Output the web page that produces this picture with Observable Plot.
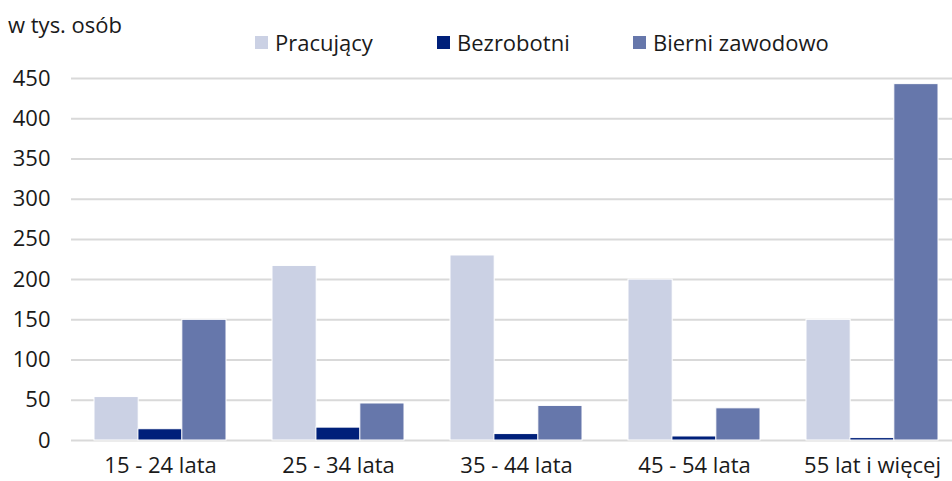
<!DOCTYPE html>
<html>
<head>
<meta charset="utf-8">
<script src="https://cdn.jsdelivr.net/npm/d3@7"></script>
<script src="https://cdn.jsdelivr.net/npm/@observablehq/plot@0.6"></script>
<style>
  html, body { margin: 0; padding: 0; background: #fff; }
  body { width: 952px; height: 481px; overflow: hidden; font-family: "Open Sans", "Noto Sans", sans-serif; color: #1a1a1a; }
  #header { position: relative; height: 60px; font-size: 22px; }
  #title { position: absolute; left: 8px; top: 9px; }
  .leg { position: absolute; top: 27px; display: flex; align-items: center; white-space: nowrap; }
  .sw { display: inline-block; width: 13px; height: 13px; margin-right: 7px; }
  #chart svg text { font-size: 22px; }
</style>
</head>
<body>
<div id="header"><span id="title">w tys. osób</span></div>
<div id="chart"></div>
<script>
const categories = ["15 - 24 lata", "25 - 34 lata", "35 - 44 lata", "45 - 54 lata", "55 lat i więcej"];
const series = ["Pracujący", "Bezrobotni", "Bierni zawodowo"];
const pracujacy = [54, 217, 230, 200, 150];
const bezrobotni = [14, 16, 8, 5, 3];
const bierni = [150, 46, 43, 40, 443];
const colors = ["#cbd1e4", "#00207a", "#6677ab"];
const yTicks = [0, 50, 100, 150, 200, 250, 300, 350, 400, 450];

const values = [pracujacy, bezrobotni, bierni];
const data = [];
series.forEach((s, si) => categories.forEach((c, ci) => data.push({cat: c, series: s, si, value: values[si][ci]})));

// legend
const legendX = [255, 437, 633];
const header = document.getElementById("header");
series.forEach((s, i) => {
  const d = document.createElement("div");
  d.className = "leg";
  d.style.left = legendX[i] + "px";
  d.innerHTML = `<span class="sw" style="background:${colors[i]}"></span><span>${s}</span>`;
  header.appendChild(d);
});

const xRange = [71, 961];
const pInner = 0.26, pOuter = 0.13;
const step = (xRange[1] - xRange[0]) / (categories.length - pInner + 2 * pOuter);
const bw = step * (1 - pInner);
const barW = bw / 3;

const chart = Plot.plot({
  width: 952,
  height: 421,
  marginLeft: 71,
  marginRight: 0,
  marginTop: 18,
  marginBottom: 41,
  style: {fontFamily: "'Open Sans', 'Noto Sans', sans-serif", fontSize: "22px", color: "#1a1a1a", background: "#fff"},
  x: {domain: categories, range: xRange, paddingInner: pInner, paddingOuter: pOuter, label: null, tickSize: 0, tickPadding: 17},
  y: {domain: [0, 450], ticks: yTicks, label: null, tickSize: 0, tickPadding: 21},
  marks: [
    Plot.ruleY(yTicks, {stroke: "#d9d9d9", strokeWidth: 2}),
    ...series.map((s, si) => Plot.barY(data.filter(d => d.si === si), {
      x: "cat", y: "value", fill: colors[si], stroke: "#ffffff", strokeWidth: 1,
      insetLeft: si * barW, insetRight: (2 - si) * barW
    }))
  ]
});
document.getElementById("chart").appendChild(chart);
</script>
</body>
</html>
